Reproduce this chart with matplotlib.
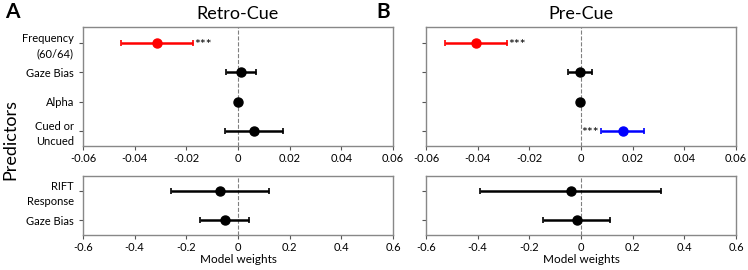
import matplotlib.pyplot as plt
import numpy as np

plt.rcParams['font.family'] = ['Lato', 'DejaVu Sans']

# ── Data ──────────────────────────────────────────────────────────────────────
top_labels = ["Frequency\n(60/64)", "Gaze Bias", "Alpha", "Cued or\nUncued"]
bot_labels = ["RIFT\nResponse", "Gaze Bias"]

retro_top_mean = [-0.0315, 0.0013, 0.0001, 0.0060]
retro_top_lo   = [-0.0453, -0.0045, -0.0006, -0.0052]
retro_top_hi   = [-0.0176, 0.0071, 0.0008, 0.0173]
retro_top_col  = ["red", "black", "black", "black"]
retro_top_sig  = ["***", "", "", ""]

pre_top_mean = [-0.0406, -0.0004, -0.0003, 0.0161]
pre_top_lo   = [-0.0525, -0.0050, -0.0008, 0.0076]
pre_top_hi   = [-0.0288, 0.0041, 0.0002, 0.0245]
pre_top_col  = ["red", "black", "black", "blue"]
pre_top_sig  = ["***", "", "", "***"]

retro_bot_mean = [-0.071, -0.050]
retro_bot_lo   = [-0.260, -0.146]
retro_bot_hi   = [0.120, 0.043]

pre_bot_mean = [-0.040, -0.015]
pre_bot_lo   = [-0.390, -0.146]
pre_bot_hi   = [0.310, 0.113]

top_ticks = [-0.06, -0.04, -0.02, 0, 0.02, 0.04, 0.06]
bot_ticks = [-0.6, -0.4, -0.2, 0, 0.2, 0.4, 0.6]


def fmt(v):
    return "0" if v == 0 else f"{v:g}"


def style(ax, ticks, lim):
    ax.set_xlim(lim)
    ax.set_xticks(ticks)
    ax.set_xticklabels([fmt(t) for t in ticks], fontsize=8)
    ax.axvline(0, color="gray", linestyle="--", linewidth=0.8, zorder=0)
    for s in ax.spines.values():
        s.set_color("#888888")
        s.set_linewidth(1.0)
    ax.tick_params(axis="both", length=3, width=0.8, color="#555555", labelsize=8)
    ax.tick_params(axis="x", pad=2)


def draw(ax, mean, lo, hi, cols, sig, ticks, lim, ylim, labels):
    y = np.arange(len(mean))
    for i in range(len(mean)):
        ax.errorbar(mean[i], y[i],
                    xerr=[[mean[i] - lo[i]], [hi[i] - mean[i]]],
                    fmt="o", color=cols[i], ecolor=cols[i],
                    markersize=6.5, elinewidth=1.8, capsize=2.5, capthick=1.2)
        if sig[i]:
            span = lim[1] - lim[0]
            if mean[i] < 0:
                ax.text(hi[i] + span * 0.006, y[i] + 0.08, sig[i], va="center",
                        ha="left", fontsize=10)
            else:
                ax.text(lo[i] - span * 0.006, y[i] + 0.08, sig[i], va="center",
                        ha="right", fontsize=10)
    ax.set_ylim(ylim)
    ax.set_yticks(y)
    if labels is not None:
        ax.set_yticklabels(labels, fontsize=8, linespacing=1.45)
    else:
        ax.set_yticklabels([])
    style(ax, ticks, lim)


fig = plt.figure(figsize=(7.48, 2.70), dpi=100)
W, H = 748, 270


def add_ax(x0, y0, x1, y1):
    return fig.add_axes([x0 / W, 1 - y1 / H, (x1 - x0) / W, (y1 - y0) / H])


ax_rt = add_ax(83, 27, 393, 146)
ax_pt = add_ax(426, 27, 736, 146)
ax_rb = add_ax(83, 176, 393, 235)
ax_pb = add_ax(426, 176, 736, 235)

draw(ax_rt, retro_top_mean, retro_top_lo, retro_top_hi, retro_top_col, retro_top_sig,
     top_ticks, (-0.06, 0.06), (3.52, -0.55), top_labels)
draw(ax_pt, pre_top_mean, pre_top_lo, pre_top_hi, pre_top_col, pre_top_sig,
     top_ticks, (-0.06, 0.06), (3.52, -0.55), None)
draw(ax_rb, retro_bot_mean, retro_bot_lo, retro_bot_hi, ["black"] * 2, ["", ""],
     bot_ticks, (-0.6, 0.6), (1.5, -0.5), bot_labels)
draw(ax_pb, pre_bot_mean, pre_bot_lo, pre_bot_hi, ["black"] * 2, ["", ""],
     bot_ticks, (-0.6, 0.6), (1.5, -0.5), None)

ax_rt.set_title("Retro-Cue", fontsize=13, pad=6)
ax_pt.set_title("Pre-Cue", fontsize=13, pad=6)
ax_rb.set_xlabel("Model weights", fontsize=8.5, labelpad=1)
ax_pb.set_xlabel("Model weights", fontsize=8.5, labelpad=1)

fig.text(5 / W, 1 - 12 / H, "A", fontsize=15, fontweight="bold", va="center", ha="left")
fig.text(376 / W, 1 - 12 / H, "B", fontsize=15, fontweight="bold", va="center", ha="left")
fig.text(10 / W, 1 - 140 / H, "Predictors", fontsize=13, rotation=90,
         va="center", ha="center")

fig.savefig("out.png", dpi=100)
